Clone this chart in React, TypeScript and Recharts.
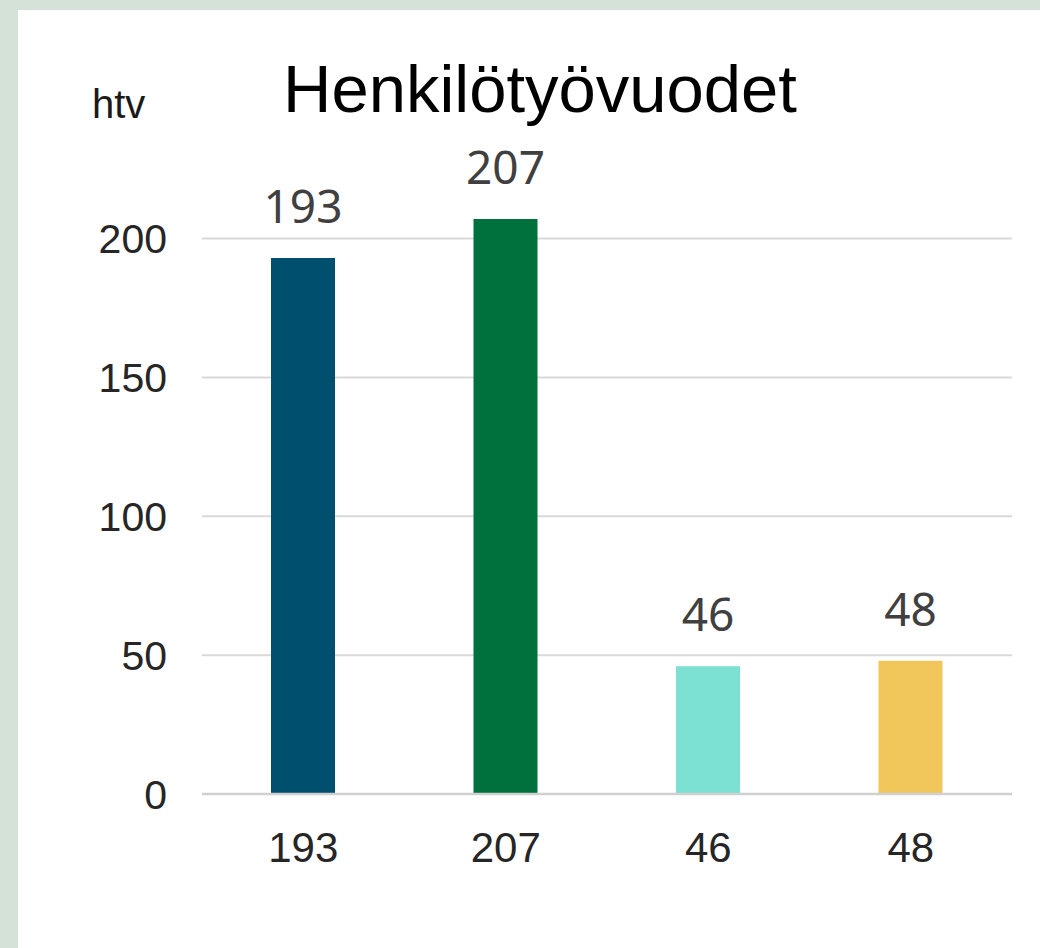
import { BarChart, Bar, XAxis, YAxis, CartesianGrid, Cell, LabelList } from 'recharts';

const categories = ['193', '207', '46', '48'];
const values = [193, 207, 46, 48];
const colors = ['#004f6f', '#00703d', '#7ce1d2', '#f1c75c'];
const yTicks = [0, 50, 100, 150, 200];

const data = categories.map((name, i) => ({ name, value: values[i] }));

const SANS = '"Liberation Sans", Arial, sans-serif';

// only draw grid lines at the y ticks (no line at the top of the plot area)
const gridLines = (props: any) => {
  const scale = props?.yAxis?.scale;
  if (typeof scale === 'function') return yTicks.map((t) => scale(t));
  const { offset } = props;
  return yTicks.map((t) => offset.top + offset.height * (1 - t / 220));
};

export default function App() {
  return (
    <div
      style={{
        position: 'absolute',
        left: 0,
        top: 0,
        width: 1040,
        height: 948,
        background: '#d4e2d7',
        overflow: 'hidden',
      }}
    >
      <div
        style={{
          position: 'absolute',
          left: 18,
          top: 10,
          width: 1022,
          height: 938,
          background: '#ffffff',
        }}
      />
      <div style={{ position: 'absolute', left: 0, top: 0 }}>
        <BarChart
          width={1040}
          height={948}
          data={data}
          margin={{ top: 183, right: 28, bottom: 94, left: 0 }}
        >
          <CartesianGrid
            vertical={false}
            stroke="#d9d9d9"
            strokeWidth={2}
            horizontalCoordinatesGenerator={gridLines}
          />
          <XAxis
            dataKey="name"
            height={60}
            tickLine={false}
            tickSize={0}
            tickMargin={38}
            axisLine={{ stroke: '#d0d0d0', strokeWidth: 2.5 }}
            tick={{ fill: '#262626', fontSize: 42, fontFamily: SANS }}
          />
          <YAxis
            width={202}
            domain={[0, 220]}
            ticks={yTicks}
            axisLine={false}
            tickLine={false}
            tickSize={0}
            tickMargin={35}
            tick={{ fill: '#262626', fontSize: 41, fontFamily: SANS }}
          />
          <Bar dataKey="value" barSize={64} isAnimationActive={false}>
            {data.map((d, i) => (
              <Cell key={d.name} fill={colors[i]} />
            ))}
            <LabelList
              dataKey="value"
              position="top"
              offset={35}
              style={{ fill: '#404040', fontSize: 46, fontFamily: '"Noto Sans", sans-serif' }}
            />
          </Bar>
        </BarChart>
      </div>
      <svg
        width={1040}
        height={948}
        style={{ position: 'absolute', left: 0, top: 0, pointerEvents: 'none' }}
      >
        <text x={540} y={112} textAnchor="middle" fontSize={67} fontFamily={SANS} fill="#000000">
          Henkilötyövuodet
        </text>
        <text x={92} y={118} fontSize={40} fontFamily={SANS} fill="#1a1a1a">
          htv
        </text>
      </svg>
    </div>
  );
}
